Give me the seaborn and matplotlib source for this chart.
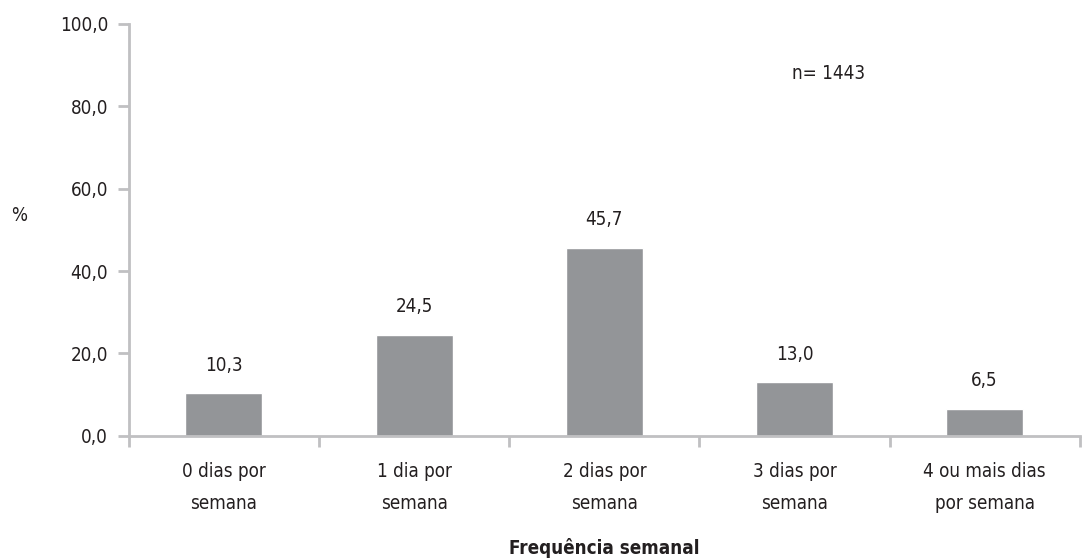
import matplotlib
matplotlib.use("Agg")
import matplotlib.pyplot as plt
import seaborn as sns
import pandas as pd

# data
categorias = ["0 dias por\nsemana", "1 dia por\nsemana", "2 dias por\nsemana",
              "3 dias por\nsemana", "4 ou mais dias\npor semana"]
percentuais = [10.3, 24.5, 45.7, 13.0, 6.5]
y_ticks = [0, 20, 40, 60, 80, 100]

sns.set_style("white")
plt.rcParams['font.family'] = ['Liberation Sans Narrow', 'DejaVu Sans']
plt.rcParams['font.stretch'] = 'condensed'

df = pd.DataFrame({"cat": categorias, "pct": percentuais})

fig = plt.figure(figsize=(10.83, 5.58), dpi=100)
ax = fig.add_axes([0.119, 0.219, 0.878, 0.738])

sns.barplot(data=df, x="cat", y="pct", color="#939598", width=0.405,
            saturation=1, ax=ax)

gray = "#c0c0c2"
for s in ["top", "right"]:
    ax.spines[s].set_visible(False)
for s in ["left", "bottom"]:
    ax.spines[s].set_color(gray)
    ax.spines[s].set_linewidth(2)

ax.set_xlim(-0.5, 4.5)
ax.set_ylim(0, 100)
ax.set_yticks(y_ticks)
ax.set_yticklabels([f"{v:.1f}".replace(".", ",") for v in y_ticks], fontsize=13.5, color="#231f20")
ax.tick_params(axis="y", length=8, width=2, color=gray, direction="out", pad=7, left=True)

# category labels on major ticks (no tick mark), separators on minor ticks
ax.set_xticks(range(len(categorias)))
ax.set_xticklabels(categorias, fontsize=13.5, color="#231f20", linespacing=1.85)
ax.tick_params(axis="x", which="major", length=0, pad=19)
ax.set_xticks([i - 0.5 for i in range(len(categorias) + 1)], minor=True)
ax.tick_params(axis="x", which="minor", length=8, width=2, color=gray, direction="out", bottom=True)

for i, v in enumerate(percentuais):
    ax.text(i, v + 4.5, f"{v:.1f}".replace(".", ","), ha="center", va="bottom",
            fontsize=13.5, color="#231f20")

ax.set_xlabel("Frequência semanal", fontsize=13.5, fontweight="bold", color="#231f20", labelpad=18)
ax.set_ylabel("%", fontsize=13.5, rotation=0, color="#231f20")
ax.yaxis.set_label_coords(-0.115, 0.512)

ax.text(0.697, 0.88, "n= 1443", transform=ax.transAxes, fontsize=13.5, color="#231f20",
        ha="left", va="center")

fig.savefig("out.png", dpi=100)
